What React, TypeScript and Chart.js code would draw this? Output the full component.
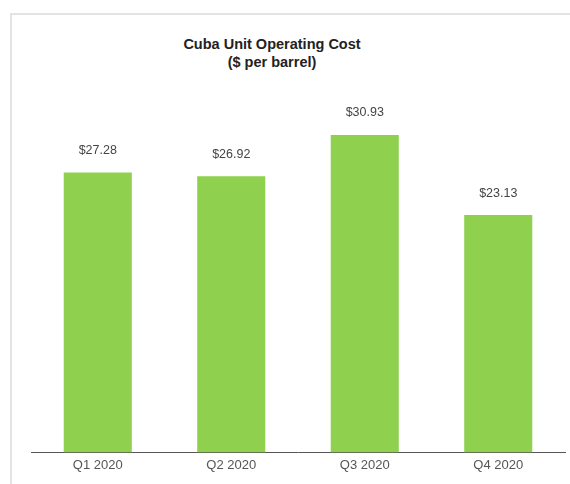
import React, { useEffect, useRef } from "react";
import { Chart, registerables } from "chart.js";

Chart.register(...registerables);

const categories = ["Q1 2020", "Q2 2020", "Q3 2020", "Q4 2020"];
const costValues = [27.28, 26.92, 30.93, 23.13];
const titleLines = ["Cuba Unit Operating Cost", "($ per barrel)"];

const valueLabelPlugin = {
  id: "valueLabels",
  afterDatasetsDraw(chart: any) {
    const ctx = chart.ctx;
    const meta = chart.getDatasetMeta(0);
    ctx.save();
    ctx.font = "12.5px 'Liberation Sans', Arial, sans-serif";
    ctx.fillStyle = "#444444";
    ctx.textAlign = "center";
    ctx.textBaseline = "middle";
    meta.data.forEach((bar: any, i: number) => {
      ctx.fillText("$" + costValues[i].toFixed(2), bar.x, bar.y - 22);
    });
    ctx.restore();
  },
};

export default function App() {
  const canvasRef = useRef<HTMLCanvasElement | null>(null);

  useEffect(() => {
    if (!canvasRef.current) return;
    const chart = new Chart(canvasRef.current, {
      type: "bar",
      data: {
        labels: categories,
        datasets: [
          {
            data: costValues,
            backgroundColor: "#8fd14f",
            borderWidth: 0,
            barPercentage: 0.51,
            categoryPercentage: 1,
          },
        ],
      },
      options: {
        animation: false,
        responsive: false,
        maintainAspectRatio: false,
        layout: { padding: { top: 83, left: 31, right: 5, bottom: 6 } },
        plugins: {
          legend: { display: false },
          title: { display: false },
          tooltip: { enabled: false },
        },
        scales: {
          x: {
            grid: { display: false, drawTicks: false },
            border: { display: true, color: "#555555", width: 1 },
            ticks: {
              color: "#555555",
              padding: 5,
              font: { family: "'Liberation Sans', Arial, sans-serif", size: 13 },
            },
          },
          y: {
            display: false,
            min: 0,
            max: 36,
          },
        },
      },
      plugins: [valueLabelPlugin],
    });
    return () => chart.destroy();
  }, []);

  return (
    <div
      style={{
        position: "fixed",
        left: 0,
        top: 0,
        width: 570,
        height: 484,
        background: "#ffffff",
        overflow: "hidden",
      }}
    >
      <div
        style={{
          position: "absolute",
          left: 10,
          top: 13,
          width: 560,
          height: 471,
          borderTop: "2px solid #e3e3e3",
          borderLeft: "2px solid #e3e3e3",
        }}
      />
      <div
        style={{
          position: "absolute",
          left: 152,
          top: 35,
          width: 240,
          textAlign: "center",
          fontFamily: "'Liberation Sans', Arial, sans-serif",
          fontWeight: "bold",
          fontSize: 14.5,
          lineHeight: "18px",
          color: "#222222",
        }}
      >
        {titleLines.map((t) => (
          <div key={t}>{t}</div>
        ))}
      </div>
      <canvas
        ref={canvasRef}
        width={570}
        height={484}
        style={{ position: "absolute", left: 0, top: 0, width: 570, height: 484 }}
      />
    </div>
  );
}
